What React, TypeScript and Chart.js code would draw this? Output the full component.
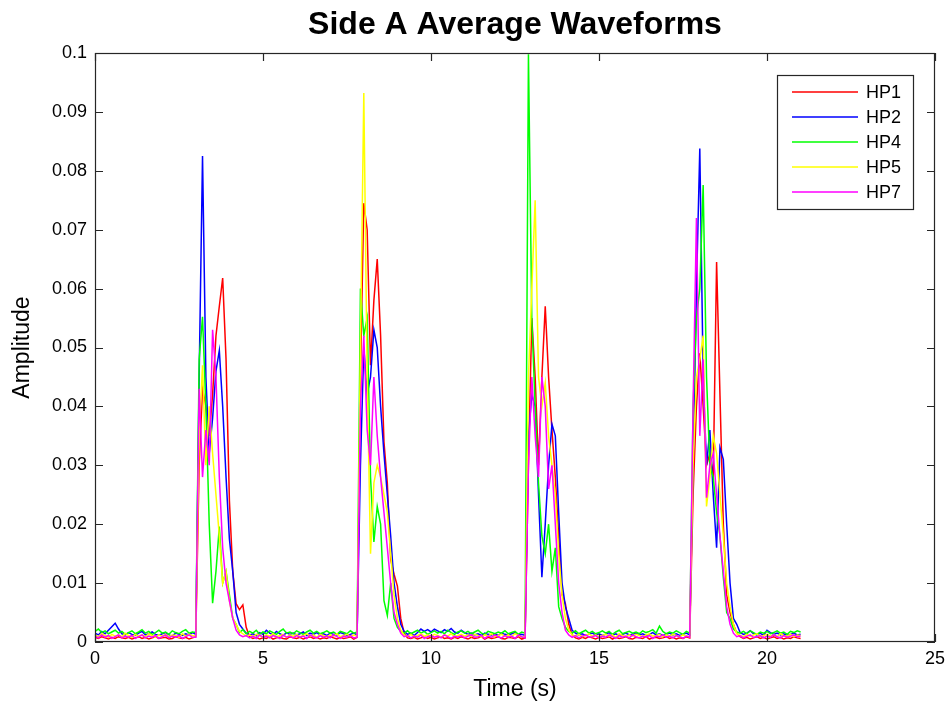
import React, { useEffect, useRef } from "react";
import { Chart, registerables } from "chart.js";

Chart.register(...registerables);

// Samples are 0.1 s apart, starting at t = 0 s (211 samples, 0–21 s).
const SAMPLE_STEP = 0.1;

const HP1 = [
  .0008, .0006, .0009, .0007, .0005, .0008, .0006, .0009, .0007, .0006,
  .0008, .0005, .0007, .0009, .0006, .0008, .0005, .0007, .0009, .0006,
  .0007, .0008, .0005, .0006, .0009, .0007, .0006, .0008, .0005, .0007,
  .0009, .030, .043, .040, .035, .042, .052, .057, .0618, .048,
  .024, .012, .0065, .0055, .0063, .0025, .0009, .0006, .0008, .0005,
  .0007, .0006, .0009, .0005, .0007, .0008, .0006, .0005, .0009, .0007,
  .0006, .0008, .0005, .0007, .0009, .0006, .0008, .0005, .0007, .0006,
  .0009, .0007, .0005, .0008, .0006, .0007, .0009, .0005, .0008, .045,
  .0745, .070, .047, .058, .065, .052, .034, .027, .014, .0115,
  .0095, .004, .0015, .0007, .0006, .0008, .0005, .0007, .0009, .0006,
  .0008, .0005, .0007, .0009, .0006, .0007, .0005, .0008, .0006, .0009,
  .0007, .0005, .0008, .0006, .0007, .0009, .0005, .0008, .0006, .0007,
  .0009, .0006, .0005, .0008, .0007, .0006, .0009, .0005, .0007, .030,
  .055, .045, .030, .045, .057, .045, .036, .028, .018, .008,
  .0065, .003, .0012, .0007, .0005, .0008, .0006, .0009, .0007, .0005,
  .0008, .0006, .0007, .0009, .0005, .0008, .0006, .0007, .0009, .0006,
  .0005, .0008, .0007, .0006, .0009, .0005, .0007, .0008, .0006, .0007,
  .0009, .0006, .0008, .0005, .0007, .0006, .0009, .0007, .025, .040,
  .049, .040, .030, .032, .028, .0645, .042, .020, .008, .005,
  .003, .0015, .0009, .0006, .0008, .0005, .0007, .0009, .0006, .0008,
  .0005, .0007, .0009, .0006, .0008, .0005, .0007, .0006, .0009, .0007,
  .0006,
];

const HP2 = [
  .0015, .0012, .0018, .0014, .0020, .0026, .0032, .0022, .0014, .0012,
  .0016, .0013, .0011, .0015, .0018, .0012, .0014, .0017, .0013, .0011,
  .0014, .0016, .0012, .0010, .0015, .0013, .0011, .0014, .0012, .0016,
  .0013, .045, .0825, .045, .032, .038, .046, .0495, .040, .028,
  .0175, .012, .005, .003, .0022, .0015, .0012, .0014, .0011, .0016,
  .0013, .0020, .0015, .0012, .0018, .0014, .0011, .0016, .0013, .0015,
  .0012, .0014, .0017, .0011, .0015, .0013, .0016, .0012, .0014, .0011,
  .0015, .0013, .0012, .0016, .0014, .0011, .0013, .0015, .0012, .030,
  .050, .042, .045, .053, .050, .040, .032, .025, .018, .010,
  .006, .003, .0018, .0013, .0015, .0011, .0016, .0022, .0018, .0021,
  .0017, .0022, .0019, .0016, .0021, .0018, .0023, .0017, .0015, .0020,
  .0016, .0013, .0015, .0012, .0014, .0011, .0015, .0013, .0012, .0014,
  .0011, .0015, .0013, .0012, .0014, .0016, .0012, .0013, .0011, .035,
  .042, .040, .025, .011, .020, .030, .037, .035, .022, .010,
  .006, .004, .002, .0015, .0012, .0014, .0011, .0013, .0015, .0012,
  .0014, .0011, .0013, .0016, .0012, .0014, .0011, .0013, .0015, .0012,
  .0013, .0015, .0012, .0014, .0011, .0013, .0016, .0012, .0014, .0011,
  .0013, .0015, .0012, .0014, .0011, .0013, .0015, .0012, .030, .060,
  .0838, .045, .030, .036, .025, .016, .033, .031, .020, .010,
  .004, .003, .0016, .0013, .0015, .0019, .0014, .0012, .0015, .0011,
  .0020, .0016, .0013, .0015, .0012, .0014, .0011, .0013, .0015, .0012,
  .0013,
];

const HP4 = [
  .0018, .0022, .0016, .0019, .0014, .0017, .0020, .0015, .0018, .0013,
  .0016, .0019, .0014, .0017, .0021, .0015, .0018, .0013, .0016, .0020,
  .0015, .0017, .0013, .0019, .0016, .0014, .0018, .0021, .0015, .0017,
  .0016, .048, .0552, .040, .020, .0066, .012, .0196, .010, .012,
  .008, .004, .003, .0016, .0021, .0014, .0018, .0015, .0020, .0013,
  .0017, .0014, .0019, .0016, .0013, .0018, .0022, .0015, .0017, .0014,
  .0019, .0016, .0013, .0017, .0020, .0015, .0018, .0014, .0016, .0019,
  .0015, .0017, .0013, .0018, .0016, .0014, .0019, .0015, .0017, .060,
  .052, .055, .028, .017, .023, .020, .007, .0045, .010, .004,
  .0025, .0018, .0015, .0019, .0014, .0017, .0020, .0015, .0018, .0013,
  .0016, .0019, .0015, .0018, .0014, .0020, .0016, .0013, .0017, .0019,
  .0015, .0018, .0014, .0017, .0020, .0015, .0013, .0018, .0016, .0014,
  .0017, .0015, .0019, .0014, .0016, .0018, .0013, .0017, .0015, .0998,
  .055, .040, .027, .018, .015, .020, .012, .016, .006, .004,
  .0025, .0018, .0015, .0019, .0014, .0017, .0020, .0015, .0018, .0014,
  .0016, .0019, .0015, .0018, .0013, .0017, .0020, .0014, .0016, .0018,
  .0015, .0017, .0014, .0019, .0016, .0018, .0021, .0015, .0027, .0018,
  .0014, .0017, .0015, .0019, .0016, .0013, .0018, .0015, .040, .055,
  .060, .0776, .045, .030, .028, .022, .018, .011, .005, .004,
  .0022, .0017, .0015, .0018, .0014, .0019, .0016, .0013, .0017, .0015,
  .0018, .0014, .0016, .0019, .0015, .0017, .0013, .0018, .0016, .0019,
  .0017,
];

const HP5 = [
  .0012, .0009, .0014, .0011, .0008, .0013, .0010, .0012, .0009, .0015,
  .0011, .0008, .0013, .0010, .0012, .0009, .0014, .0011, .0008, .0012,
  .0010, .0013, .0009, .0012, .0011, .0008, .0014, .0010, .0013, .0011,
  .0010, .035, .047, .030, .040, .032, .025, .018, .010, .012,
  .007, .004, .003, .0018, .0014, .0010, .0012, .0009, .0013, .0011,
  .0008, .0012, .0010, .0014, .0009, .0011, .0013, .0008, .0012, .0010,
  .0013, .0009, .0011, .0014, .0010, .0012, .0008, .0013, .0011, .0009,
  .0012, .0010, .0014, .0009, .0011, .0013, .0010, .0012, .0010, .050,
  .0932, .045, .015, .027, .030, .028, .025, .022, .015, .008,
  .004, .002, .0012, .0010, .0013, .0009, .0011, .0014, .0010, .0012,
  .0009, .0013, .0011, .0008, .0012, .0010, .0014, .0009, .0011, .0013,
  .0010, .0012, .0009, .0013, .0011, .0008, .0012, .0010, .0014, .0009,
  .0011, .0013, .0010, .0012, .0009, .0014, .0011, .0008, .0010, .045,
  .060, .075, .045, .040, .044, .035, .030, .025, .015, .008,
  .004, .002, .0012, .0010, .0013, .0009, .0011, .0014, .0010, .0012,
  .0009, .0011, .0013, .0010, .0012, .0008, .0014, .0011, .0009, .0012,
  .0010, .0013, .0011, .0009, .0012, .0014, .0010, .0011, .0013, .0009,
  .0012, .0010, .0013, .0011, .0009, .0012, .0010, .0009, .030, .045,
  .048, .052, .023, .028, .035, .032, .025, .018, .010, .006,
  .003, .0014, .0011, .0009, .0013, .0010, .0012, .0014, .0009, .0011,
  .0013, .0010, .0012, .0009, .0014, .0011, .0010, .0013, .0009, .0012,
  .0011,
];

const HP7 = [
  .0010, .0007, .0012, .0008, .0011, .0006, .0009, .0012, .0007, .0010,
  .0008, .0011, .0006, .0009, .0012, .0007, .0010, .0008, .0011, .0006,
  .0009, .0012, .0007, .0010, .0008, .0011, .0006, .0009, .0012, .0008,
  .0008, .043, .028, .036, .030, .053, .045, .028, .016, .010,
  .007, .004, .002, .0012, .0009, .0011, .0007, .0010, .0006, .0012,
  .0008, .0010, .0007, .0011, .0009, .0006, .0012, .0008, .0010, .0007,
  .0011, .0008, .0010, .0006, .0012, .0009, .0007, .0011, .0008, .0010,
  .0007, .0012, .0009, .0006, .0010, .0008, .0011, .0007, .0008, .040,
  .052, .036, .030, .045, .035, .028, .022, .016, .010, .005,
  .003, .0015, .0009, .0011, .0007, .0010, .0008, .0012, .0006, .0009,
  .0011, .0008, .0010, .0007, .0012, .0009, .0006, .0010, .0008, .0011,
  .0007, .0010, .0012, .0008, .0009, .0011, .0006, .0010, .0008, .0012,
  .0009, .0007, .0011, .0008, .0010, .0006, .0012, .0009, .0007, .030,
  .045, .035, .028, .045, .040, .026, .030, .020, .010, .005,
  .002, .0012, .0008, .0011, .0007, .0010, .0012, .0008, .0009, .0011,
  .0007, .0010, .0008, .0012, .0009, .0006, .0011, .0008, .0010, .0007,
  .0012, .0009, .0007, .0010, .0008, .0011, .0006, .0010, .0009, .0012,
  .0008, .0010, .0007, .0011, .0009, .0006, .0010, .0008, .040, .072,
  .035, .048, .0245, .030, .032, .025, .018, .012, .006, .003,
  .0015, .0009, .0011, .0007, .0010, .0012, .0008, .0009, .0011, .0007,
  .0010, .0008, .0012, .0009, .0007, .0011, .0008, .0010, .0012, .0009,
  .0010,
];

const SERIES_LABELS = ["HP1", "HP2", "HP4", "HP5", "HP7"];
const SERIES_COLORS = ["#ff0000", "#0000ff", "#00ff00", "#ffff00", "#ff00ff"];
const SERIES_VALUES = [HP1, HP2, HP4, HP5, HP7];

const TITLE = "Side A Average Waveforms";
const X_TITLE = "Time (s)";
const Y_TITLE = "Amplitude";
const X_MIN = 0;
const X_MAX = 25;
const X_STEP = 5;
const Y_MIN = 0;
const Y_MAX = 0.1;
const Y_STEP = 0.01;

const FONT = '"Liberation Sans", Arial, Helvetica, sans-serif';
const INK = "#262626";
const TICK_LEN = 8;

function fmtTick(v: number): string {
  return String(Number(v.toFixed(4)));
}

// Draws the boxed axes, inward ticks, labels, title and legend.
const boxedAxes = {
  id: "boxedAxes",
  beforeDraw(chart: any) {
    const { ctx, width, height } = chart;
    ctx.save();
    ctx.fillStyle = "#ffffff";
    ctx.fillRect(0, 0, width, height);
    ctx.restore();
  },
  afterDatasetsDraw(chart: any) {
    const { ctx, chartArea: a, scales } = chart;
    const xs = scales.x;
    const ys = scales.y;
    ctx.save();

    // frame
    ctx.strokeStyle = INK;
    ctx.lineWidth = 1.2;
    ctx.strokeRect(a.left + 0.5, a.top + 0.5, a.right - a.left - 1, a.bottom - a.top - 1);

    // ticks
    ctx.beginPath();
    xs.ticks.forEach((t: any) => {
      const px = Math.round(xs.getPixelForValue(t.value)) + 0.5;
      ctx.moveTo(px, a.bottom);
      ctx.lineTo(px, a.bottom - TICK_LEN);
      ctx.moveTo(px, a.top);
      ctx.lineTo(px, a.top + TICK_LEN);
    });
    ys.ticks.forEach((t: any) => {
      const py = Math.round(ys.getPixelForValue(t.value)) + 0.5;
      ctx.moveTo(a.left, py);
      ctx.lineTo(a.left + TICK_LEN, py);
      ctx.moveTo(a.right, py);
      ctx.lineTo(a.right - TICK_LEN, py);
    });
    ctx.stroke();

    // tick labels
    ctx.fillStyle = "#000000";
    ctx.font = `18px ${FONT}`;
    ctx.textAlign = "right";
    ctx.textBaseline = "middle";
    ys.ticks.forEach((t: any) => {
      ctx.fillText(fmtTick(t.value), a.left - 8, ys.getPixelForValue(t.value));
    });
    ctx.textAlign = "center";
    ctx.textBaseline = "middle";
    xs.ticks.forEach((t: any) => {
      ctx.fillText(fmtTick(t.value), xs.getPixelForValue(t.value), a.bottom + 17);
    });

    // axis titles
    ctx.font = `23px ${FONT}`;
    ctx.fillText(X_TITLE, (a.left + a.right) / 2, a.bottom + 48);
    ctx.save();
    ctx.translate(23, (a.top + a.bottom) / 2);
    ctx.rotate(-Math.PI / 2);
    ctx.fillText(Y_TITLE, 0, 0);
    ctx.restore();

    // title
    ctx.font = `bold 32px ${FONT}`;
    ctx.fillText(TITLE, (a.left + a.right) / 2, 25);

    // legend
    const lx = 777.5;
    const ly = 75.5;
    const lw = 136;
    const lh = 134;
    ctx.fillStyle = "#ffffff";
    ctx.fillRect(lx, ly, lw, lh);
    ctx.strokeStyle = INK;
    ctx.lineWidth = 1.2;
    ctx.strokeRect(lx, ly, lw, lh);
    ctx.font = `18px ${FONT}`;
    ctx.textAlign = "left";
    ctx.textBaseline = "middle";
    SERIES_LABELS.forEach((label, i) => {
      const y = 92 + i * 25;
      ctx.strokeStyle = SERIES_COLORS[i];
      ctx.lineWidth = 1.5;
      ctx.beginPath();
      ctx.moveTo(792, y);
      ctx.lineTo(858, y);
      ctx.stroke();
      ctx.fillStyle = "#000000";
      ctx.fillText(label, 866, y + 1);
    });

    ctx.restore();
  },
};

export default function App() {
  const canvasRef = useRef<HTMLCanvasElement | null>(null);

  useEffect(() => {
    const canvas = canvasRef.current;
    if (!canvas) return;
    const datasets = SERIES_VALUES.map((values, i) => ({
      label: SERIES_LABELS[i],
      data: values.map((v, k) => ({ x: k * SAMPLE_STEP, y: v })),
      borderColor: SERIES_COLORS[i],
      backgroundColor: SERIES_COLORS[i],
      borderWidth: 1.5,
      pointRadius: 0,
      tension: 0,
      fill: false,
      order: SERIES_VALUES.length - i,
    }));
    const chart = new Chart(canvas, {
      type: "line",
      data: { datasets },
      options: {
        responsive: false,
        animation: false,
        devicePixelRatio: 1,
        layout: { padding: { left: 95, right: 12, top: 53, bottom: 64 } },
        plugins: {
          legend: { display: false },
          title: { display: false },
          tooltip: { enabled: false },
        },
        scales: {
          x: {
            type: "linear",
            min: X_MIN,
            max: X_MAX,
            ticks: { stepSize: X_STEP, display: false },
            grid: { display: false },
            border: { display: false },
            afterFit: (s: any) => { s.height = 0; },
          },
          y: {
            type: "linear",
            min: Y_MIN,
            max: Y_MAX,
            ticks: { stepSize: Y_STEP, display: false },
            grid: { display: false },
            border: { display: false },
            afterFit: (s: any) => { s.width = 0; },
          },
        },
      },
      plugins: [boxedAxes],
    });
    return () => chart.destroy();
  }, []);

  return (
    <div style={{ position: "fixed", left: 0, top: 0, width: 947, height: 706, background: "#fff" }}>
      <canvas ref={canvasRef} width={947} height={706} style={{ display: "block" }} />
    </div>
  );
}
